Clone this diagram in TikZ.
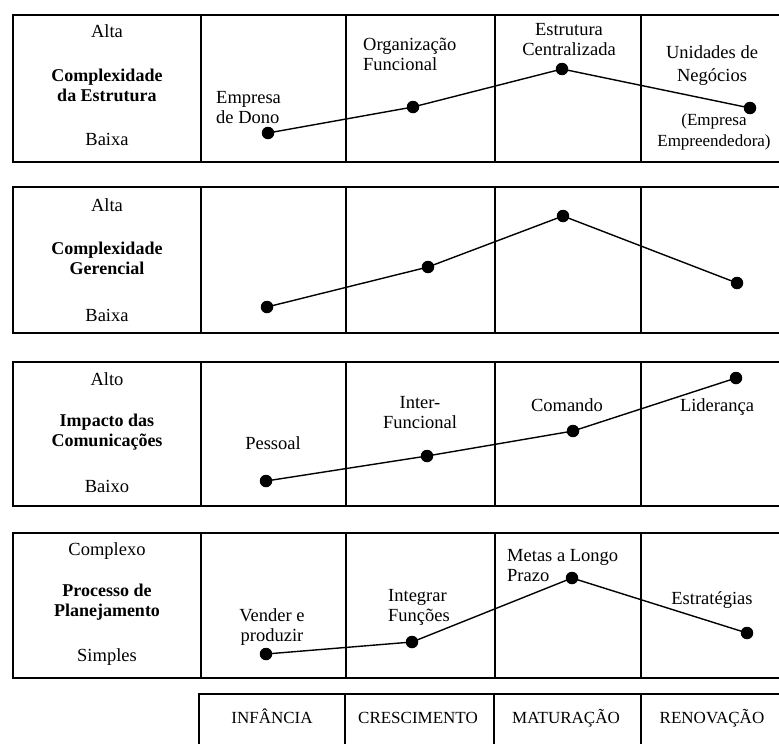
\documentclass[tikz,border=0pt]{standalone}
\usepackage{fontspec}
\setmainfont{Liberation Serif}
\begin{document}
\begin{tikzpicture}[x=1pt,y=-1pt,
  frame/.style={line width=1.8pt},
  link/.style={line width=1.4pt},
  dot/.style={circle,fill=black,inner sep=0pt,minimum size=12.5pt},
  lbl/.style={font=\fontsize{18.5}{20}\selectfont,align=center,inner sep=0pt},
  ttl/.style={font=\fontsize{18}{20}\selectfont\bfseries,align=center,inner sep=0pt},
  stage/.style={font=\fontsize{17}{18}\selectfont,inner sep=0pt,anchor=base}]
\useasboundingbox (0,0) rectangle (779,744);

% four panels: open on the right side
\foreach \t/\b in {15/162,187/333,362/506,533/678}{
  \draw[frame] (779,\t) -- (13,\t) -- (13,\b) -- (779,\b);
  \foreach \c in {201,346,495,641}
    \draw[frame] (\c,\t) -- (\c,\b);
}

% stage row at the bottom
\draw[frame] (199,744) -- (199,694) -- (779,694);
\foreach \c in {345,494,641}
  \draw[frame] (\c,694) -- (\c,744);

% panel 1: complexidade da estrutura
\node[lbl] (a-hi) at (107,31) {Alta};
\node[ttl] (a-t) at (107,85) {Complexidade\\da Estrutura};
\node[lbl] (a-lo) at (107,139) {Baixa};
\node[lbl,align=left,anchor=west] (a-l1) at (216,108) {Empresa\\de Dono};
\node[lbl,align=left,anchor=west] (a-l2) at (363,54) {Organização\\Funcional};
\node[lbl] (a-l3) at (569,40) {Estrutura\\Centralizada};
\node[lbl,font=\fontsize{18.5}{23}\selectfont] (a-l4) at (712,66) {Unidades de\\Negócios};
\node[lbl,font=\fontsize{17}{21}\selectfont] (a-l5) at (714,132) {(Empresa\\Empreendedora)};
\node[dot] (a1) at (268,133) {};
\node[dot] (a2) at (413,107) {};
\node[dot] (a3) at (562,69) {};
\node[dot] (a4) at (750,108) {};
\draw[link] (a1.center) -- (a2.center) -- (a3.center) -- (a4.center);

% panel 2: complexidade gerencial
\node[lbl] (b-hi) at (107,205) {Alta};
\node[ttl] (b-t) at (107,258) {Complexidade\\Gerencial};
\node[lbl] (b-lo) at (107,315) {Baixa};
\node[dot] (b1) at (267,307) {};
\node[dot] (b2) at (428,267) {};
\node[dot] (b3) at (563,216) {};
\node[dot] (b4) at (737,283) {};
\draw[link] (b1.center) -- (b2.center) -- (b3.center) -- (b4.center);

% panel 3: impacto das comunicações
\node[lbl] (c-hi) at (107,379) {Alto};
\node[ttl] (c-t) at (107,432) {Impacto das\\Comunicações};
\node[lbl] (c-lo) at (107,486) {Baixo};
\node[lbl] (c-l1) at (273,443) {Pessoal};
\node[lbl] (c-l2) at (420,413) {Inter-\\Funcional};
\node[lbl] (c-l3) at (567,405) {Comando};
\node[lbl] (c-l4) at (717,407) {Liderança};
\node[dot] (c1) at (266,481) {};
\node[dot] (c2) at (427,456) {};
\node[dot] (c3) at (573,431) {};
\node[dot] (c4) at (736,378) {};
\draw[link] (c1.center) -- (c2.center) -- (c3.center) -- (c4.center);

% panel 4: processo de planejamento
\node[lbl] (d-hi) at (107,551) {Complexo};
\node[ttl] (d-t) at (107,602) {Processo de\\Planejamento};
\node[lbl] (d-lo) at (107,657) {Simples};
\node[lbl] (d-l1) at (272,627) {Vender e\\produzir};
\node[lbl,align=left,anchor=west] (d-l2) at (388,607) {Integrar\\Funções};
\node[lbl,align=left,anchor=west] (d-l3) at (507,566) {Metas a Longo\\Prazo};
\node[lbl] (d-l4) at (712,600) {Estratégias};
\node[dot] (d1) at (266,654) {};
\node[dot] (d2) at (412,642) {};
\node[dot] (d3) at (572,578) {};
\node[dot] (d4) at (747,633) {};
\draw[link] (d1.center) -- (d2.center) -- (d3.center) -- (d4.center);

% stage names
\node[stage] (s1) at (272,723) {INFÂNCIA};
\node[stage] (s2) at (418,723) {CRESCIMENTO};
\node[stage] (s3) at (566,723) {MATURAÇÃO};
\node[stage] (s4) at (712,723) {RENOVAÇÃO};
\end{tikzpicture}
\end{document}
